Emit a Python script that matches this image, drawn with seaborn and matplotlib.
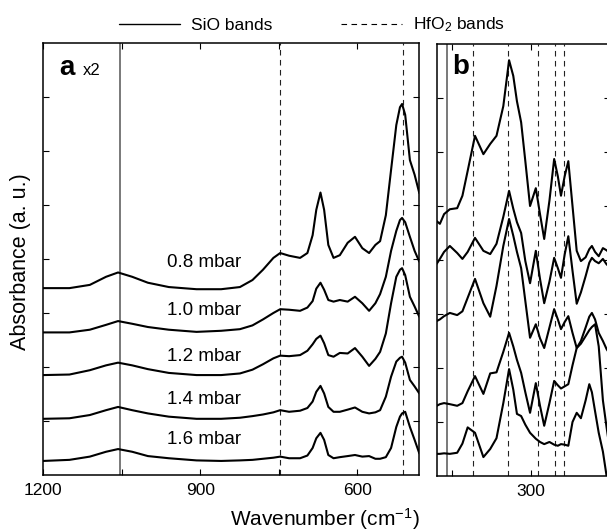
import numpy as np
import pandas as pd
import matplotlib
matplotlib.use("Agg")
import matplotlib.pyplot as plt
from matplotlib.lines import Line2D
from matplotlib.ticker import MultipleLocator, NullFormatter
import seaborn as sns

# ------------------------------
# Data
# ------------------------------

pressures = ["0.8 mbar", "1.0 mbar", "1.2 mbar", "1.4 mbar", "1.6 mbar"]

# panel a: 1200 - 481 cm-1 (x2 scaled)
wn_a = [1200, 1150, 1111, 1080, 1057, 1030, 1000, 960, 907, 860, 824, 800, 780, 760,
        747, 730, 709, 695, 685, 678, 670, 663, 655, 645, 633, 618, 604, 590, 577,
        565, 556, 545, 535, 525, 518, 514, 508, 499, 490, 481]

abs_a_08 = [3.46, 3.46, 3.52, 3.67, 3.75, 3.67, 3.56, 3.48, 3.44, 3.44, 3.48, 3.61, 3.80, 4.02,
            4.11, 4.06, 4.02, 4.11, 4.44, 4.91, 5.23, 4.91, 4.26, 4.02, 4.07, 4.30, 4.41, 4.20, 4.11,
            4.26, 4.33, 4.81, 5.65, 6.48, 6.81, 6.87, 6.67, 5.83, 5.56, 5.22]
abs_a_10 = [2.64, 2.64, 2.69, 2.78, 2.85, 2.80, 2.74, 2.69, 2.65, 2.67, 2.70, 2.77, 2.88, 3.00,
            3.07, 3.06, 3.04, 3.10, 3.22, 3.45, 3.56, 3.43, 3.24, 3.21, 3.24, 3.21, 3.30, 3.18, 3.04,
            3.18, 3.35, 3.67, 4.15, 4.52, 4.72, 4.76, 4.68, 4.41, 4.15, 3.95]
abs_a_12 = [1.85, 1.86, 1.94, 2.03, 2.08, 2.03, 1.96, 1.89, 1.85, 1.85, 1.88, 1.95, 2.05, 2.16,
            2.21, 2.20, 2.22, 2.30, 2.42, 2.52, 2.58, 2.44, 2.22, 2.19, 2.26, 2.25, 2.35, 2.19, 2.02,
            2.15, 2.28, 2.62, 3.18, 3.67, 3.80, 3.83, 3.70, 3.30, 3.12, 2.93]
abs_a_14 = [1.04, 1.05, 1.11, 1.20, 1.26, 1.20, 1.14, 1.08, 1.04, 1.04, 1.06, 1.09, 1.12, 1.16,
            1.20, 1.17, 1.19, 1.24, 1.36, 1.54, 1.65, 1.51, 1.26, 1.17, 1.17, 1.21, 1.25, 1.17, 1.14,
            1.16, 1.20, 1.45, 1.82, 2.10, 2.17, 2.19, 2.08, 1.76, 1.64, 1.51]
abs_a_16 = [0.26, 0.28, 0.34, 0.43, 0.48, 0.43, 0.35, 0.31, 0.27, 0.26, 0.27, 0.28, 0.30, 0.32,
            0.34, 0.31, 0.31, 0.36, 0.50, 0.68, 0.78, 0.65, 0.37, 0.31, 0.33, 0.35, 0.37, 0.34, 0.35,
            0.30, 0.30, 0.33, 0.50, 0.89, 1.08, 1.14, 1.17, 0.89, 0.65, 0.40]

# panel b: 479 - 149 cm-1
wn_b = [479, 473, 465, 454, 440, 430, 420, 406, 390, 377, 365, 352, 341, 333, 326, 318, 310,
        301, 290, 282, 274, 264, 255, 248, 242, 235, 228, 220, 212, 204, 195, 188, 183, 177,
        170, 162, 155, 149]

abs_b_08 = [4.72, 4.67, 4.85, 4.94, 4.96, 5.19, 5.65, 6.30, 5.96, 6.15, 6.30, 6.85, 7.70, 7.41,
            6.94, 6.55, 5.83, 5.00, 5.33, 4.85, 4.39, 5.10, 5.87, 5.55, 5.19, 5.55, 5.83, 5.00,
            4.17, 3.98, 4.05, 4.20, 4.26, 4.15, 4.07, 4.22, 4.18, 4.13]
abs_b_10 = [3.93, 4.02, 4.15, 4.26, 4.13, 4.02, 4.15, 4.41, 4.17, 4.11, 4.30, 4.80, 5.28, 4.95,
            4.70, 4.50, 3.98, 3.57, 4.17, 3.65, 3.20, 3.60, 4.04, 3.85, 3.67, 4.10, 4.44, 3.80,
            3.19, 3.40, 3.70, 3.95, 4.04, 3.98, 3.94, 4.02, 3.92, 3.87]
abs_b_12 = [2.87, 2.90, 2.96, 3.02, 2.98, 3.05, 3.30, 3.65, 3.20, 2.95, 3.52, 4.26, 4.76, 4.45,
            4.15, 3.85, 3.24, 2.56, 2.81, 2.55, 2.37, 2.75, 3.09, 2.90, 2.72, 2.85, 2.96, 2.65,
            2.37, 2.50, 2.75, 2.95, 3.02, 2.90, 2.65, 2.50, 2.35, 2.26]
abs_b_14 = [1.30, 1.33, 1.35, 1.33, 1.30, 1.35, 1.57, 1.85, 1.52, 1.90, 1.92, 2.30, 2.65, 2.40,
            2.15, 1.91, 1.55, 1.17, 1.72, 1.30, 0.93, 1.35, 1.76, 1.68, 1.62, 1.66, 1.70, 2.05,
            2.37, 2.45, 2.59, 2.70, 2.76, 2.81, 2.40, 1.40, 0.90, 0.50]
abs_b_16 = [0.41, 0.41, 0.42, 0.41, 0.43, 0.60, 0.90, 0.80, 0.35, 0.50, 0.70, 1.35, 1.98, 1.60,
            1.15, 1.11, 0.95, 0.80, 0.69, 0.63, 0.59, 0.63, 0.58, 0.56, 0.59, 0.58, 0.56, 1.00,
            1.17, 1.07, 1.40, 1.70, 1.55, 1.20, 0.80, 0.45, 0.00, -0.30]

label_y = [3.94, 3.04, 2.19, 1.39, 0.65]

sio_bands_a = [1053]
hfo2_bands_a = [747, 513]
sio_bands_b = [460]
hfo2_bands_b = [410, 343, 285, 253, 236]

# long tables for seaborn
df_a = pd.concat([pd.DataFrame({"wn": wn_a, "abs": y, "p": p})
                  for p, y in zip(pressures, [abs_a_08, abs_a_10, abs_a_12, abs_a_14, abs_a_16])])
df_b = pd.concat([pd.DataFrame({"wn": wn_b, "abs": y, "p": p})
                  for p, y in zip(pressures, [abs_b_08, abs_b_10, abs_b_12, abs_b_14, abs_b_16])])

# ------------------------------
# Plot
# ------------------------------

sns.set_style("ticks")
plt.rcParams['font.family'] = ['Liberation Sans', 'DejaVu Sans']
plt.rcParams['mathtext.default'] = 'regular'
for key in ['text.color', 'axes.labelcolor', 'xtick.color', 'ytick.color', 'axes.edgecolor']:
    plt.rcParams[key] = 'black'

fig = plt.figure(figsize=(6.07, 5.31), dpi=100)
ax_a = fig.add_axes([0.0713, 0.1055, 0.6195, 0.8136])
ax_b = fig.add_axes([0.7195, 0.1036, 0.2850, 0.8135])

sio_kw = dict(color="#555555", lw=1.1, zorder=1)
hfo_kw = dict(color="#222222", lw=0.8, ls=(0, (5, 4)), zorder=1)

for ax, data, sio, hfo in [(ax_a, df_a, sio_bands_a, hfo2_bands_a),
                           (ax_b, df_b, sio_bands_b, hfo2_bands_b)]:
    for x in sio:
        ax.axvline(x, **sio_kw)
    for x in hfo:
        ax.axvline(x, **hfo_kw)
    sns.lineplot(data=data, x="wn", y="abs", units="p", estimator=None, sort=False,
                 color="black", lw=1.5, ax=ax, legend=False, zorder=3)
    for ln in ax.lines:
        ln.set_solid_joinstyle("round")
    ax.set_ylim(0, 8)
    ax.set_yticks(range(1, 8))
    ax.yaxis.set_major_formatter(NullFormatter())
    ax.xaxis.set_major_locator(MultipleLocator(300))
    ax.xaxis.set_minor_locator(MultipleLocator(150))
    ax.tick_params(which="both", direction="in", top=True, right=True,
                   length=4, width=0.8, labelsize=12.5, pad=6)
    ax.set_xlabel("")
    ax.set_ylabel("")
    for s in ax.spines.values():
        s.set_linewidth(1.1)
        s.set_color("black")

ax_a.set_xlim(1200, 481)
ax_b.set_xlim(479, 149)

for txt, y in zip(pressures, label_y):
    ax_a.text(892, y, txt, ha="center", va="center", fontsize=13.5)

ax_a.text(0.042, 0.926, "a", transform=ax_a.transAxes, fontsize=20, fontweight="bold", va="baseline")
ax_a.text(0.106, 0.926, "x2", transform=ax_a.transAxes, fontsize=12, va="baseline")
ax_b.text(0.089, 0.93, "b", transform=ax_b.transAxes, fontsize=20, fontweight="bold", va="baseline")

fig.text(0.535, 0.0226, "Wavenumber (cm$^{-1}$)", ha="center", va="center", fontsize=15)
fig.text(0.033, 0.507, "Absorbance (a. u.)", ha="center", va="center", rotation=90, fontsize=15.5)

handles = [Line2D([], [], color="black", lw=1.0),
           Line2D([], [], color="black", lw=0.8, ls=(0, (5, 4)))]
fig.legend(handles, ["SiO bands", "HfO$_2$ bands"], loc="center", bbox_to_anchor=(0.514, 0.953),
           ncol=2, frameon=False, fontsize=12.5, handlelength=3.5, columnspacing=4, handletextpad=0.6)

fig.savefig("out.png", dpi=100)
